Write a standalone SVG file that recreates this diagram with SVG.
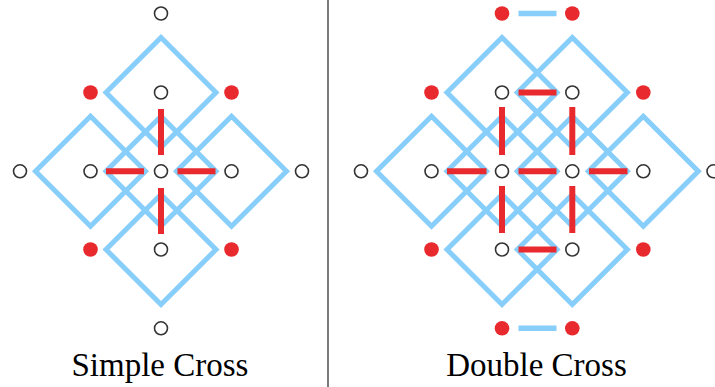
<svg xmlns="http://www.w3.org/2000/svg" xmlns:xlink="http://www.w3.org/1999/xlink" width="715" height="387" viewBox="0 0 715 387">
<style>
.knot{fill:none;stroke:#87CEFA;stroke-width:5;stroke-linejoin:miter}
.bar{stroke:#87CEFA;stroke-width:5.5;stroke-linecap:butt}
.mirror{stroke:#E8292D;stroke-width:6;stroke-linecap:butt}
.pt{fill:#fff;stroke:#333;stroke-width:1.6}
.dot{fill:#E8292D;stroke:none}
.label{font-family:"Liberation Serif","Times New Roman",serif;font-size:33px;fill:#000;text-anchor:middle}
</style>
<defs>
<path id="dm" d="M0,-55 L55,0 L0,55 L-55,0 Z"/>
</defs>
<rect width="715" height="387" fill="#fff"/>
<line x1="328" y1="0" x2="328" y2="387" stroke="#222" stroke-width="1.2"/>

<g id="simple-cross">
<g id="simple-curve" class="knot">
<use xlink:href="#dm" x="161" y="92.5"/>
<use xlink:href="#dm" x="90.5" y="171.3"/>
<use xlink:href="#dm" x="161" y="171.3"/>
<use xlink:href="#dm" x="231.5" y="171.3"/>
<use xlink:href="#dm" x="161" y="249.5"/>
</g>
<g id="simple-mirrors" class="mirror">
<line x1="161" y1="109" x2="161" y2="155"/>
<line x1="161" y1="188" x2="161" y2="234"/>
<line x1="106" y1="171.3" x2="144" y2="171.3"/>
<line x1="177.5" y1="171.3" x2="215.5" y2="171.3"/>
</g>
<g id="simple-points">
<circle class="pt" cx="161" cy="13.5" r="6.5"/>
<circle class="pt" cx="161" cy="92.5" r="6.5"/>
<circle class="pt" cx="20" cy="171.3" r="6.5"/>
<circle class="pt" cx="90.5" cy="171.3" r="6.5"/>
<circle class="pt" cx="161" cy="171.3" r="6.5"/>
<circle class="pt" cx="231.5" cy="171.3" r="6.5"/>
<circle class="pt" cx="302" cy="171.3" r="6.5"/>
<circle class="pt" cx="161" cy="249.5" r="6.5"/>
<circle class="pt" cx="161" cy="328.3" r="6.5"/>
<circle class="dot" cx="90.5" cy="92.5" r="7.3"/>
<circle class="dot" cx="231.5" cy="92.5" r="7.3"/>
<circle class="dot" cx="90.5" cy="249.5" r="7.3"/>
<circle class="dot" cx="231.5" cy="249.5" r="7.3"/>
</g>
<text class="label" x="160" y="376">Simple Cross</text>
</g>

<g id="double-cross">
<g id="double-curve" class="knot">
<use xlink:href="#dm" x="502" y="92.5"/>
<use xlink:href="#dm" x="572.3" y="92.5"/>
<use xlink:href="#dm" x="431.5" y="171.3"/>
<use xlink:href="#dm" x="502" y="171.3"/>
<use xlink:href="#dm" x="572.3" y="171.3"/>
<use xlink:href="#dm" x="643.3" y="171.3"/>
<use xlink:href="#dm" x="502" y="249.5"/>
<use xlink:href="#dm" x="572.3" y="249.5"/>
</g>
<g id="double-bars" class="bar">
<line x1="518.5" y1="13.5" x2="556.5" y2="13.5"/>
<line x1="518.5" y1="328.3" x2="556.5" y2="328.3"/>
</g>
<g id="double-mirrors" class="mirror">
<line x1="518.5" y1="92.5" x2="556.5" y2="92.5"/>
<line x1="518.5" y1="249.5" x2="556.5" y2="249.5"/>
<line x1="447" y1="171.3" x2="486.5" y2="171.3"/>
<line x1="518.5" y1="171.3" x2="556.5" y2="171.3"/>
<line x1="589" y1="171.3" x2="627.5" y2="171.3"/>
<line x1="502" y1="107" x2="502" y2="155"/>
<line x1="502" y1="186" x2="502" y2="233"/>
<line x1="572.3" y1="107" x2="572.3" y2="155"/>
<line x1="572.3" y1="186" x2="572.3" y2="233"/>
</g>
<g id="double-points">
<circle class="pt" cx="502" cy="92.5" r="6.5"/>
<circle class="pt" cx="572.3" cy="92.5" r="6.5"/>
<circle class="pt" cx="361" cy="171.3" r="6.5"/>
<circle class="pt" cx="431.5" cy="171.3" r="6.5"/>
<circle class="pt" cx="502" cy="171.3" r="6.5"/>
<circle class="pt" cx="572.3" cy="171.3" r="6.5"/>
<circle class="pt" cx="643.3" cy="171.3" r="6.5"/>
<circle class="pt" cx="713.5" cy="171.3" r="6.5"/>
<circle class="pt" cx="502" cy="249.5" r="6.5"/>
<circle class="pt" cx="572.3" cy="249.5" r="6.5"/>
<circle class="dot" cx="502" cy="13.5" r="7.3"/>
<circle class="dot" cx="572.3" cy="13.5" r="7.3"/>
<circle class="dot" cx="431.5" cy="92.5" r="7.3"/>
<circle class="dot" cx="643.3" cy="92.5" r="7.3"/>
<circle class="dot" cx="431.5" cy="249.5" r="7.3"/>
<circle class="dot" cx="643.3" cy="249.5" r="7.3"/>
<circle class="dot" cx="502" cy="328.3" r="7.3"/>
<circle class="dot" cx="572.3" cy="328.3" r="7.3"/>
</g>
<text class="label" x="536.5" y="376">Double Cross</text>
</g>
</svg>
